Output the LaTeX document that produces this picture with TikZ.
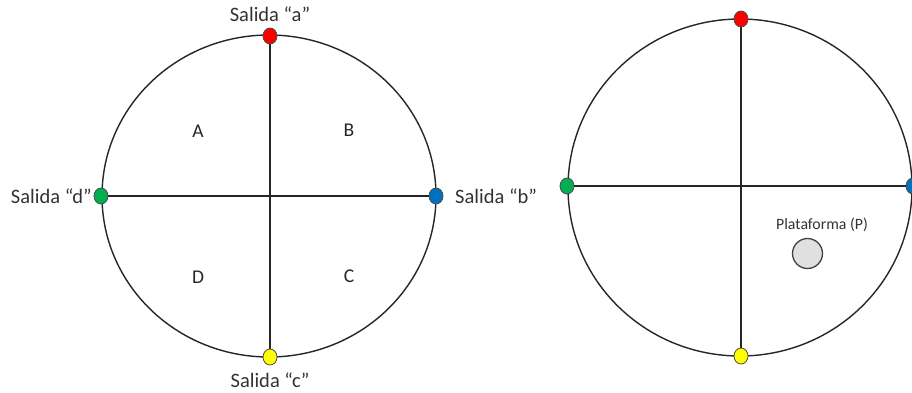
\documentclass[tikz,border=0pt]{standalone}
\usepackage{fontspec}
\setmainfont{Carlito}
\usetikzlibrary{shapes.geometric}
\definecolor{dotred}{RGB}{255,0,0}
\definecolor{dotblue}{RGB}{0,112,192}
\definecolor{dotyellow}{RGB}{255,255,0}
\definecolor{dotgreen}{RGB}{0,176,80}
\begin{document}
\begin{tikzpicture}[x=1pt,y=-1pt,
  ring/.style={draw=black!85, line width=1.4pt},
  axis/.style={draw=black!85, line width=1.3pt},
  dot/.style={ellipse, draw=black!70, line width=0.8pt, minimum width=14pt, minimum height=16pt, inner sep=0pt},
  lbl/.style={font=\fontsize{20.5}{24}\selectfont, text=black!80, inner sep=0pt},
  qlbl/.style={font=\fontsize{19.5}{22}\selectfont, text=black!85, inner sep=0pt},
  small/.style={font=\fontsize{15.8}{18}\selectfont, text=black!80, inner sep=0pt}
]
\useasboundingbox (0,0) rectangle (912,392);
% left circle
\draw[ring] (269,196) ellipse [x radius=167, y radius=161];
\node[dot, fill=dotred] (la) at (270,36) {};
\node[dot, fill=dotblue] (lb) at (436,196) {};
\node[dot, fill=dotyellow] (lcn) at (270,357) {};
\node[dot, fill=dotgreen] (ld) at (101,196) {};
\draw[axis] (la) -- (lcn);
\draw[axis] (ld) -- (lb);
\node[lbl] (ta) at (270,14) {Salida “a”};
\node[lbl, anchor=west] (tb) at (455,196) {Salida “b”};
\node[lbl] (tc) at (270,380) {Salida “c”};
\node[lbl, anchor=east] (td) at (92,196) {Salida “d”};
\node[qlbl] (qa) at (198,131) {A};
\node[qlbl] (qb) at (349,130) {B};
\node[qlbl] (qd) at (198,277) {D};
\node[qlbl] (qc) at (349,276) {C};
% right circle
\draw[ring] (740,187.5) ellipse [x radius=172, y radius=168.5];
\node[dot, fill=dotred] (ra) at (741,19) {};
\node[dot, fill=dotblue] (rb) at (913,186) {};
\node[dot, fill=dotyellow] (rc) at (741,356) {};
\node[dot, fill=dotgreen] (rd) at (567,186) {};
\draw[axis] (ra) -- (rc);
\draw[axis] (rd) -- (rb);
\node[small] (tp) at (822,225) {Plataforma (P)};
\node[circle, draw=black!75, line width=1.3pt, fill=black!12, minimum size=30pt, inner sep=0pt] (p) at (807.5,253.5) {};
\end{tikzpicture}
\end{document}
